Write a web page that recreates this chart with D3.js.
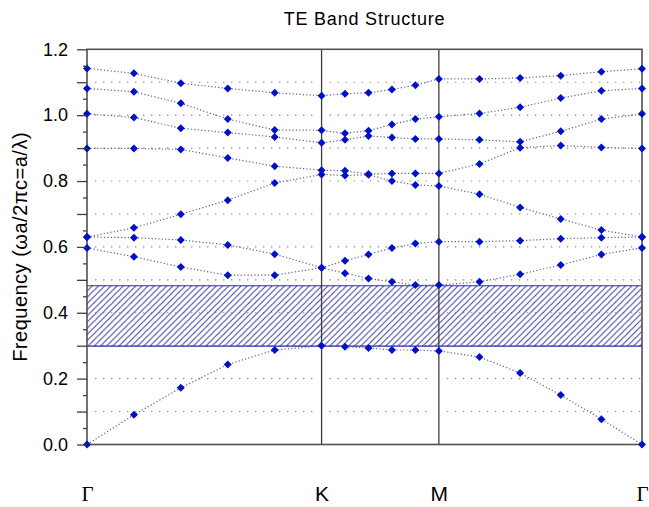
<!DOCTYPE html>
<html>
<head>
<meta charset="utf-8">
<script src="https://cdn.jsdelivr.net/npm/d3@7"></script>
<style>
  html, body { margin: 0; padding: 0; background: #ffffff; }
  svg { display: block; }
</style>
</head>
<body>
<div id="chart"></div>
<script>
// ---- data ----
const kLabels = ["\u0393", "K", "M", "\u0393"];
const kSegments = [4 / 3, 2 / 3, 2 / Math.sqrt(3)];   // Γ-K, K-M, M-Γ path lengths (hexagonal lattice)
const pointsPerSegment = 5;
const band1 = [0.000, 0.090, 0.172, 0.243, 0.287, 0.300, 0.297, 0.293, 0.287, 0.287, 0.284, 0.266, 0.217, 0.150, 0.077, 0.000];
const band2 = [0.597, 0.570, 0.539, 0.514, 0.514, 0.537, 0.520, 0.504, 0.494, 0.484, 0.484, 0.494, 0.517, 0.545, 0.577, 0.597];
const band3 = [0.630, 0.628, 0.621, 0.606, 0.578, 0.537, 0.558, 0.577, 0.597, 0.610, 0.616, 0.616, 0.619, 0.625, 0.628, 0.630];
const band4 = [0.630, 0.658, 0.699, 0.742, 0.794, 0.820, 0.817, 0.819, 0.800, 0.788, 0.785, 0.760, 0.720, 0.685, 0.651, 0.630];
const band5 = [0.899, 0.899, 0.896, 0.870, 0.845, 0.833, 0.831, 0.821, 0.823, 0.823, 0.823, 0.852, 0.901, 0.908, 0.902, 0.899];
const band6 = [1.004, 0.993, 0.960, 0.947, 0.934, 0.916, 0.925, 0.937, 0.932, 0.928, 0.928, 0.925, 0.919, 0.951, 0.988, 1.004];
const band7 = [1.081, 1.071, 1.036, 0.988, 0.955, 0.954, 0.945, 0.953, 0.972, 0.988, 0.995, 1.005, 1.024, 1.052, 1.074, 1.081];
const band8 = [1.142, 1.127, 1.097, 1.081, 1.068, 1.059, 1.065, 1.068, 1.078, 1.091, 1.110, 1.110, 1.113, 1.120, 1.132, 1.141];
const bands = [band1, band2, band3, band4, band5, band6, band7, band8];
const gapBounds = [0.299, 0.482];
const yTickLabels = ["0.0", "0.2", "0.4", "0.6", "0.8", "1.0", "1.2"];
const gridValues = [0.1, 0.2, 0.3, 0.4, 0.5, 0.6, 0.7, 0.8, 0.9, 1.0, 1.1];
const titleText = "TE Band Structure";
const yTitle = "Frequency (\u03C9a/2\u03C0c=a/\u03BB)";

// k positions along path
const symPos = [0];
kSegments.forEach(s => symPos.push(symPos[symPos.length - 1] + s));
const kPos = [];
for (let s = 0; s < kSegments.length; s++) {
  for (let i = 0; i < pointsPerSegment; i++) kPos.push(symPos[s] + kSegments[s] * i / pointsPerSegment);
}
kPos.push(symPos[symPos.length - 1]);

// ---- layout ----
const W = 649, H = 507;
const m = { left: 87, right: 642, top: 49.3, bottom: 444.5 };
const svg = d3.select("#chart").append("svg").attr("width", W).attr("height", H);

const x = d3.scaleLinear().domain([0, symPos[symPos.length - 1]]).range([m.left, m.right]);
const y = d3.scaleLinear().domain([0, 1.2]).range([m.bottom, m.top]);

// hatch pattern
const defs = svg.append("defs");
const hs = 6.2;
const pat = defs.append("pattern").attr("id", "hatch").attr("patternUnits", "userSpaceOnUse")
  .attr("width", hs).attr("height", hs);
pat.append("path").attr("d", `M-1,1 l2,-2 M0,${hs} l${hs},${-hs} M${hs - 1},${hs + 1} l2,-2`)
  .attr("stroke", "#3c3c9c").attr("stroke-width", 1.05);

// gridlines (segmented between symmetry lines)
const gridSegs = [[symPos[0], symPos[1]], [symPos[1], symPos[2]], [symPos[2], symPos[3]]];
const gridG = svg.append("g");
gridValues.forEach(v => {
  gridSegs.forEach((seg, i) => {
    gridG.append("line")
      .attr("x1", x(seg[0]) + 8).attr("x2", x(seg[1]) - (i === 2 ? 0 : 6))
      .attr("y1", y(v)).attr("y2", y(v))
      .attr("stroke", "#8a8a8a").attr("stroke-width", 1.1)
      .attr("stroke-dasharray", "1.4,6.6");
  });
});

// band gap
svg.append("rect")
  .attr("x", x(0)).attr("width", x(symPos[3]) - x(0))
  .attr("y", y(gapBounds[1])).attr("height", y(gapBounds[0]) - y(gapBounds[1]))
  .attr("fill", "url(#hatch)");
[gapBounds[0], gapBounds[1]].forEach(v => {
  svg.append("line").attr("x1", x(0)).attr("x2", x(symPos[3]))
    .attr("y1", y(v)).attr("y2", y(v))
    .attr("stroke", "#2a2ab0").attr("stroke-width", 1.2);
});

// symmetry vertical lines
[symPos[1], symPos[2]].forEach(k => {
  svg.append("line").attr("x1", x(k)).attr("x2", x(k))
    .attr("y1", m.top).attr("y2", m.bottom)
    .attr("stroke", "#3c3c3c").attr("stroke-width", 1.3);
});

// bands: dotted lines
const line = d3.line().x((d, i) => x(kPos[i])).y(d => y(d));
svg.append("g").selectAll("path").data(bands).join("path")
  .attr("d", line)
  .attr("fill", "none").attr("stroke", "#5c5c98").attr("stroke-width", 1.2)
  .attr("stroke-dasharray", "1.2,2.2");

// frame
svg.append("rect").attr("x", m.left).attr("y", m.top)
  .attr("width", m.right - m.left).attr("height", m.bottom - m.top)
  .attr("fill", "none").attr("stroke", "#505050").attr("stroke-width", 1.6);

// markers
const pts = [];
bands.forEach(b => b.forEach((v, i) => pts.push([kPos[i], v])));
const sym = d3.symbol().type(d3.symbolSquare).size(32);
svg.append("g").selectAll("path").data(pts).join("path")
  .attr("d", sym)
  .attr("transform", d => `translate(${x(d[0])},${y(d[1])}) rotate(45)`)
  .attr("fill", "#0010c8");

// y axis: major (0.1) and minor (0.05) ticks
const fmtMap = new Map(yTickLabels.map(s => [Math.round(parseFloat(s) * 100), s]));
const yAxisMajor = d3.axisLeft(y).tickValues(d3.range(0, 13).map(i => i / 10))
  .tickSize(10).tickPadding(9)
  .tickFormat(d => fmtMap.get(Math.round(d * 100)) || "");
const ga = svg.append("g").attr("transform", `translate(${m.left},0)`).call(yAxisMajor);
ga.select(".domain").remove();
ga.selectAll("line").attr("stroke", "#404040").attr("stroke-width", 1.3);
ga.selectAll("text").attr("font-family", "Liberation Sans, Arial, sans-serif")
  .attr("font-size", 18).attr("fill", "#000");
const yAxisMinor = d3.axisLeft(y).tickValues(d3.range(0, 12).map(i => i / 10 + 0.05))
  .tickSize(4).tickFormat("");
const gm = svg.append("g").attr("transform", `translate(${m.left},0)`).call(yAxisMinor);
gm.select(".domain").remove();
gm.selectAll("line").attr("stroke", "#404040").attr("stroke-width", 1.3);

// x axis labels
const xAxis = d3.axisBottom(x).tickValues(symPos).tickSize(0).tickPadding(0)
  .tickFormat((d, i) => kLabels[i]);
const gx = svg.append("g").attr("transform", `translate(0,${m.bottom})`).call(xAxis);
gx.select(".domain").remove();
gx.selectAll("text")
  .attr("dy", null).attr("y", 56)
  .attr("font-size", 21).attr("fill", "#000")
  .attr("font-family", (d, i) => kLabels[i] === "\u0393" ? "Liberation Serif, Times New Roman, serif" : "Liberation Sans, Arial, sans-serif");

// title
svg.append("text").attr("x", (m.left + m.right) / 2).attr("y", 24.5)
  .attr("text-anchor", "middle").attr("font-family", "Liberation Sans, Arial, sans-serif")
  .attr("font-size", 18).attr("letter-spacing", 0.8).attr("fill", "#000").text(titleText);

// y title
svg.append("text")
  .attr("transform", `translate(27,${(m.top + m.bottom) / 2}) rotate(-90)`)
  .attr("text-anchor", "middle").attr("font-family", "Liberation Sans, Arial, sans-serif")
  .attr("font-size", 20).attr("letter-spacing", 0.5).attr("fill", "#000").text(yTitle);
</script>
</body>
</html>
